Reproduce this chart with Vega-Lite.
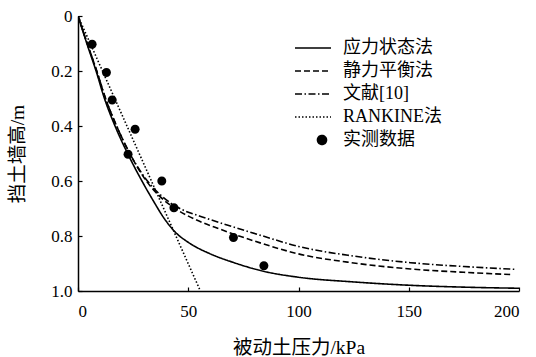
{
  "$schema": "https://vega.github.io/schema/vega-lite/v6.json",
  "width": 441,
  "height": 275,
  "autosize": {"type": "none"},
  "padding": {"left": 78, "top": 16, "right": 17, "bottom": 66},
  "background": "white",
  "config": {
    "view": {"stroke": null},
    "font": "'Liberation Serif', 'Times New Roman', 'Noto Sans CJK SC', serif",
    "axis": {
      "grid": false,
      "domainColor": "black",
      "domainWidth": 1.5,
      "tickColor": "black",
      "tickWidth": 1.2,
      "tickSize": -4,
      "labelColor": "black",
      "titleColor": "black",
      "labelFont": "'Liberation Serif', 'Times New Roman', serif",
      "labelFontSize": 17,
      "titleFont": "'Liberation Serif', 'Times New Roman', 'Noto Sans CJK SC', serif",
      "titleFontSize": 19.5,
      "titleFontWeight": "normal"
    },
    "legend": {
      "orient": "none",
      "legendX": 234,
      "legendY": 22,
      "padding": 0,
      "symbolSize": 324,
      "symbolStrokeWidth": 1.6,
      "symbolStrokeColor": "black",
      "symbolFillColor": "black",
      "symbolOpacity": 1,
      "labelFont": "'Liberation Serif', 'Times New Roman', 'Noto Sans CJK SC', serif",
      "labelFontSize": 18,
      "labelColor": "black",
      "labelOffset": 11,
      "rowPadding": 4
    }
  },
  "datasets": {
    "curves": [
      {"series": "应力状态法", "x": 0, "y": 0},
      {"series": "应力状态法", "x": 4, "y": 0.1},
      {"series": "应力状态法", "x": 8.2, "y": 0.2},
      {"series": "应力状态法", "x": 12, "y": 0.3},
      {"series": "应力状态法", "x": 16.8, "y": 0.4},
      {"series": "应力状态法", "x": 22.5, "y": 0.5},
      {"series": "应力状态法", "x": 29, "y": 0.6},
      {"series": "应力状态法", "x": 34, "y": 0.67},
      {"series": "应力状态法", "x": 39, "y": 0.735},
      {"series": "应力状态法", "x": 44, "y": 0.785},
      {"series": "应力状态法", "x": 50, "y": 0.823},
      {"series": "应力状态法", "x": 60, "y": 0.865},
      {"series": "应力状态法", "x": 70, "y": 0.895},
      {"series": "应力状态法", "x": 84, "y": 0.928},
      {"series": "应力状态法", "x": 100, "y": 0.95},
      {"series": "应力状态法", "x": 125, "y": 0.967},
      {"series": "应力状态法", "x": 150, "y": 0.979},
      {"series": "应力状态法", "x": 175, "y": 0.986},
      {"series": "应力状态法", "x": 200, "y": 0.99},
      {"series": "静力平衡法", "x": 0, "y": 0},
      {"series": "静力平衡法", "x": 4.2, "y": 0.1},
      {"series": "静力平衡法", "x": 8.5, "y": 0.2},
      {"series": "静力平衡法", "x": 12.5, "y": 0.3},
      {"series": "静力平衡法", "x": 17.5, "y": 0.4},
      {"series": "静力平衡法", "x": 23.5, "y": 0.5},
      {"series": "静力平衡法", "x": 31, "y": 0.6},
      {"series": "静力平衡法", "x": 37, "y": 0.655},
      {"series": "静力平衡法", "x": 43.5, "y": 0.697},
      {"series": "静力平衡法", "x": 53.8, "y": 0.742},
      {"series": "静力平衡法", "x": 64.4, "y": 0.775},
      {"series": "静力平衡法", "x": 82.6, "y": 0.825},
      {"series": "静力平衡法", "x": 100, "y": 0.865},
      {"series": "静力平衡法", "x": 125, "y": 0.898},
      {"series": "静力平衡法", "x": 150.8, "y": 0.92},
      {"series": "静力平衡法", "x": 175, "y": 0.932},
      {"series": "静力平衡法", "x": 196, "y": 0.94},
      {"series": "文献[10]", "x": 0, "y": 0},
      {"series": "文献[10]", "x": 4.2, "y": 0.1},
      {"series": "文献[10]", "x": 8.5, "y": 0.2},
      {"series": "文献[10]", "x": 12.5, "y": 0.3},
      {"series": "文献[10]", "x": 17.5, "y": 0.4},
      {"series": "文献[10]", "x": 23.5, "y": 0.5},
      {"series": "文献[10]", "x": 31.5, "y": 0.6},
      {"series": "文献[10]", "x": 38, "y": 0.655},
      {"series": "文献[10]", "x": 46.2, "y": 0.7},
      {"series": "文献[10]", "x": 55, "y": 0.727},
      {"series": "文献[10]", "x": 64.4, "y": 0.752},
      {"series": "文献[10]", "x": 82.6, "y": 0.797},
      {"series": "文献[10]", "x": 100, "y": 0.838},
      {"series": "文献[10]", "x": 125, "y": 0.873},
      {"series": "文献[10]", "x": 150.8, "y": 0.897},
      {"series": "文献[10]", "x": 175, "y": 0.911},
      {"series": "文献[10]", "x": 198, "y": 0.921},
      {"series": "RANKINE法", "x": 0, "y": 0},
      {"series": "RANKINE法", "x": 11.1, "y": 0.2},
      {"series": "RANKINE法", "x": 22.2, "y": 0.4},
      {"series": "RANKINE法", "x": 33.3, "y": 0.6},
      {"series": "RANKINE法", "x": 44.4, "y": 0.8},
      {"series": "RANKINE法", "x": 55.5, "y": 1.0}
    ],
    "measured": [
      {"series": "实测数据", "x": 6.4, "y": 0.103},
      {"series": "实测数据", "x": 12.9, "y": 0.205},
      {"series": "实测数据", "x": 15.5, "y": 0.305},
      {"series": "实测数据", "x": 25.9, "y": 0.412},
      {"series": "实测数据", "x": 22.7, "y": 0.503},
      {"series": "实测数据", "x": 38.0, "y": 0.6},
      {"series": "实测数据", "x": 43.5, "y": 0.697},
      {"series": "实测数据", "x": 70.5, "y": 0.805},
      {"series": "实测数据", "x": 84.3, "y": 0.908}
    ]
  },
  "layer": [
    {
      "data": {"name": "curves"},
      "mark": {"type": "line", "color": "black", "strokeWidth": 1.6, "clip": true, "interpolate": "monotone"},
      "encoding": {
        "x": {
          "field": "x", "type": "quantitative",
          "scale": {"domain": [0, 200], "nice": false},
          "axis": {"values": [0, 50, 100, 150, 200], "labelPadding": 16, "title": "被动土压力/kPa", "titleY": 62, "titleBaseline": "alphabetic"}
        },
        "y": {
          "field": "y", "type": "quantitative",
          "scale": {"domain": [0, 1], "reverse": true, "nice": false},
          "axis": {
            "values": [0, 0.2, 0.4, 0.6, 0.8, 1.0],
            "labelExpr": "datum.value == 0 ? '0' : format(datum.value, '.1f')",
            "labelPadding": 10,
            "title": "挡土墙高/m",
            "titleX": -61, "titleY": 137.5, "titleBaseline": "middle", "titleAlign": "center", "titleAngle": -90
          }
        },
        "strokeDash": {
          "field": "series", "type": "nominal",
          "scale": {
            "domain": ["应力状态法", "静力平衡法", "文献[10]", "RANKINE法", "实测数据"],
            "range": [[1, 0], [6, 3], [7, 2.5, 1.5, 2.5], [1.5, 2], [1, 0]]
          },
          "legend": {
            "title": null,
            "encode": {"symbols": {"update": {"stroke": {"value": "black"}, "strokeWidth": {"value": 1.6}, "fill": {"value": "black"}, "opacity": {"value": 1}}}}
          }
        }
      }
    },
    {
      "data": {"name": "measured"},
      "mark": {"type": "point", "filled": true, "color": "black", "opacity": 1, "size": 324},
      "encoding": {
        "x": {"field": "x", "type": "quantitative"},
        "y": {"field": "y", "type": "quantitative"},
        "shape": {
          "field": "series", "type": "nominal",
          "scale": {
            "domain": ["应力状态法", "静力平衡法", "文献[10]", "RANKINE法", "实测数据"],
            "range": ["M-3,0L1,0", "M-3,0L1,0", "M-3,0L1,0", "M-3,0L1,0", "M0,-0.5A0.5,0.5 0 1,1 0,0.5A0.5,0.5 0 1,1 0,-0.5Z"]
          },
          "legend": {
            "title": null,
            "encode": {"symbols": {"update": {"stroke": {"value": "black"}, "strokeWidth": {"value": 1.6}, "fill": {"value": "black"}, "opacity": {"value": 1}}}}
          }
        }
      }
    }
  ]
}
